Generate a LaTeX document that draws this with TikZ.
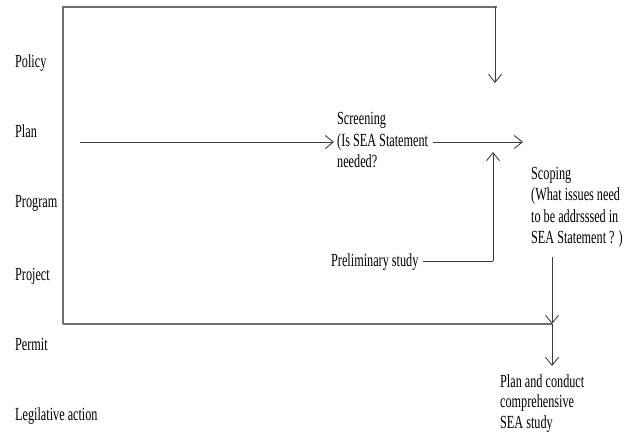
\documentclass[tikz,border=0pt]{standalone}
\usepackage{fontspec}
\setmainfont{Liberation Serif}[FakeStretch=0.66]
\usetikzlibrary{arrows.meta,positioning}
\definecolor{frameg}{HTML}{6E6E6E}
\definecolor{arrowg}{HTML}{3C3C3C}

\begin{document}
\begin{tikzpicture}[x=1pt, y=-1pt, every node/.style={font=\fontsize{18.5}{21.5}\selectfont,inner sep=0pt}, lbl/.style={anchor=base west}, blk/.style={anchor=north west,align=left}, frame/.style={draw=frameg,line width=1.6pt}, arr/.style={-{Straight Barb[length=8pt,width=13pt]},draw=arrowg,line width=0.9pt}]
\useasboundingbox (0,0) rectangle (628,435);
% left column
\node[lbl] (policy) at (15,68) {Policy};
\node[lbl] (plan) at (15,138) {Plan};
\node[lbl] (program) at (15,208) {Program};
\node[lbl] (project) at (15,280) {Project};
\node[lbl] (permit) at (15,350) {Permit};
\node[lbl] (legis) at (15,420) {Legilative action};
% steps
\node[blk] (screen) at (337,112.5) {Screening\\(Is SEA Statement\\needed?};
\node[lbl] (prelim) at (331,266) {Preliminary study};
\node[blk] (scope) at (531,167) {Scoping\\(What issues need\\to be addrsssed in\\SEA Statement ? )};
\node[blk,font=\fontsize{18.5}{20.5}\selectfont] (study) at (500,374) {Plan and conduct\\comprehensive\\SEA study};
\coordinate (topleft) at (63,7);
\coordinate (topright) at (495,7);
\coordinate (droptip) at (495,83);
\coordinate (botleft) at (63,324);
\coordinate (merge) at (552,324);
\coordinate (planout) at (80,142);
\coordinate (rise) at (493,261);
\coordinate (risetip) at (493,152);
\draw[frame] (botleft) -- (topleft) -- ([xshift=2pt]topright);
\draw[arr] (topright) -- (droptip);
\draw[arr] (planout) -- ([xshift=-3pt]screen.west |- planout);
\draw[arr] ([xshift=5pt]screen.east |- planout) -- ([xshift=-8pt]scope.west |- planout);
\draw[arrowg,line width=0.9pt] ([xshift=4pt]prelim.east |- rise) -- (rise);
\draw[arr] (rise) -- (risetip);
\draw[frame] (botleft) -- (merge);
\draw[arr] ([yshift=-9pt]scope.south -| merge) -- (merge);
\draw[arr] (merge) -- ([yshift=8pt]study.north -| merge);
\end{tikzpicture}
\end{document}
